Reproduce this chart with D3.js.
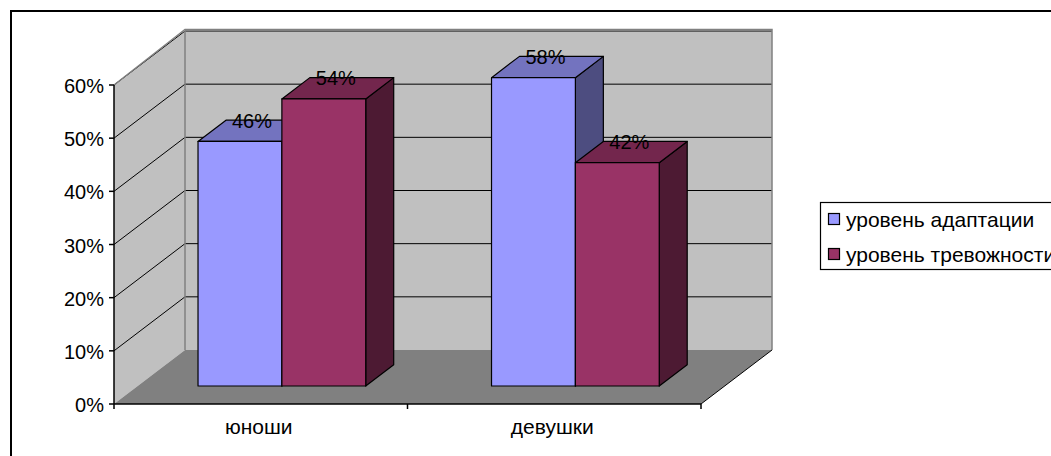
<!DOCTYPE html>
<html>
<head>
<meta charset="utf-8">
<script src="https://cdn.jsdelivr.net/npm/d3@7"></script>
<style>
  html, body { margin: 0; padding: 0; background: #fff; }
  svg { display: block; font-family: "Liberation Sans", Arial, sans-serif; }
</style>
</head>
<body>
<svg id="chart" width="1051" height="456"></svg>
<script>
// Data
const categories = ["юноши", "девушки"];
const seriesNames = ["уровень адаптации", "уровень тревожности"];
const adaptation = [0.46, 0.58];
const anxiety = [0.54, 0.42];
const yTicks = [0, 0.1, 0.2, 0.3, 0.4, 0.5, 0.6];
const yTickLabels = ["0%", "10%", "20%", "30%", "40%", "50%", "60%"];
const valueLabels = [["46%", "54%"], ["58%", "42%"]];

const seriesValues = [adaptation, anxiety];
const frontColors = ["#9999FF", "#993366"];
const topColors = ["#7373BF", "#73264D"];
const sideColors = ["#4D4D80", "#4D1A33"];

const svg = d3.select("#chart");

// Oblique 3D projection: depth z in [0,1] shifts a point right and up
const DX = 71, DY = -54;
const x0 = 114, x1 = 701;
const y = d3.scaleLinear().domain([0, 0.6]).range([404, 85]);
const xCat = d3.scaleBand().domain(categories).range([x0, x1]).padding(0);
const xSer = d3.scaleBand().domain(seriesNames).range([0, xCat.bandwidth()])
  .paddingInner(0).paddingOuter(0.75).align(0.48);
const barZ0 = 0.333, barZ1 = 0.727;

const P = (x, v, z) => [x + z * DX, y(v) + z * DY];
const poly = pts => pts.map(p => p.join(",")).join(" ");

// Outer frame
svg.append("rect").attr("x", 11).attr("y", 11).attr("width", 1200).attr("height", 600)
  .attr("fill", "#fff").attr("stroke", "#000").attr("stroke-width", 2);

// Walls and floor
const vMax = 0.6;
svg.append("polygon")
  .attr("points", poly([P(x0, 0, 1), P(x1, 0, 1), P(x1, vMax, 1), P(x0, vMax, 1)]))
  .attr("fill", "#C0C0C0");
svg.append("polygon")
  .attr("points", poly([P(x0, 0, 0), P(x0, vMax, 0), P(x0, vMax, 1), P(x0, 0, 1)]))
  .attr("fill", "#C0C0C0");
svg.append("polygon")
  .attr("points", poly([P(x0, 0, 0), P(x1, 0, 0), P(x1, 0, 1), P(x0, 0, 1)]))
  .attr("fill", "#808080");

// Gridlines across side and back walls
svg.append("g").selectAll("polyline")
  .data(yTicks.filter(t => t > 0))
  .join("polyline")
  .attr("points", t => poly([P(x0, t, 0), P(x0, t, 1), P(x1, t, 1)]))
  .attr("fill", "none").attr("stroke", "#000").attr("stroke-width", 1);

// Wall edges
svg.append("polyline")
  .attr("points", poly([P(x0, vMax, 0), [P(x0, vMax, 1)[0], P(x0, vMax, 1)[1] - 1.5],
                        [P(x1, vMax, 1)[0], P(x1, vMax, 1)[1] - 1.5], P(x1, 0, 1)]))
  .attr("fill", "none").attr("stroke", "#808080").attr("stroke-width", 1.5);
svg.append("line")
  .attr("x1", P(x0, vMax, 1)[0]).attr("y1", P(x0, vMax, 1)[1])
  .attr("x2", P(x0, 0, 1)[0]).attr("y2", P(x0, 0, 1)[1])
  .attr("stroke", "#808080").attr("stroke-width", 1.5);
svg.append("line")
  .attr("x1", P(x1, 0, 0)[0]).attr("y1", P(x1, 0, 0)[1])
  .attr("x2", P(x1, 0, 1)[0]).attr("y2", P(x1, 0, 1)[1])
  .attr("stroke", "#000").attr("stroke-width", 1);

// Value axis
const yAxis = svg.append("g");
yAxis.append("line").attr("x1", x0).attr("x2", x0).attr("y1", y(0)).attr("y2", y(vMax))
  .attr("stroke", "#000").attr("stroke-width", 1.5);
const yt = yAxis.selectAll("g.tick").data(yTicks).join("g").attr("class", "tick");
yt.append("line").attr("x1", x0 - 5).attr("x2", x0).attr("y1", d => y(d)).attr("y2", d => y(d))
  .attr("stroke", "#000").attr("stroke-width", 1.5);
yt.append("text").attr("x", x0 - 10).attr("y", d => y(d) + 8)
  .attr("text-anchor", "end").attr("font-size", 20).attr("fill", "#000")
  .text((d, i) => yTickLabels[i]);

// Category axis
const xAxis = svg.append("g");
xAxis.append("line").attr("x1", x0).attr("x2", x1).attr("y1", y(0)).attr("y2", y(0))
  .attr("stroke", "#000").attr("stroke-width", 1.5);
const bounds = [x0].concat(categories.map(c => xCat(c) + xCat.bandwidth()));
xAxis.selectAll("line.tk").data(bounds).join("line").attr("class", "tk")
  .attr("x1", d => d).attr("x2", d => d).attr("y1", y(0)).attr("y2", y(0) + 5)
  .attr("stroke", "#000").attr("stroke-width", 1.5);
xAxis.selectAll("text").data(categories).join("text")
  .attr("x", c => xCat(c) + xCat.bandwidth() / 2 - 2).attr("y", 434)
  .attr("text-anchor", "middle").attr("font-size", 21).attr("fill", "#000")
  .text(c => c);

// Bars, drawn left to right so nearer faces overlap correctly
const bars = [];
categories.forEach((c, ci) => {
  seriesNames.forEach((s, si) => {
    bars.push({ ci, si, v: seriesValues[si][ci], xl: xCat(c) + xSer(s), xr: xCat(c) + xSer(s) + xSer.bandwidth() });
  });
});
const gBars = svg.append("g");
bars.forEach(b => {
  const g = gBars.append("g");
  const fBL = P(b.xl, 0, barZ0), fBR = P(b.xr, 0, barZ0);
  const fTL = P(b.xl, b.v, barZ0), fTR = P(b.xr, b.v, barZ0);
  const bTL = P(b.xl, b.v, barZ1), bTR = P(b.xr, b.v, barZ1);
  const bBR = P(b.xr, 0, barZ1);
  g.append("polygon").attr("points", poly([fBR, fTR, bTR, bBR]))
    .attr("fill", sideColors[b.si]).attr("stroke", "#000").attr("stroke-width", 1.2).attr("stroke-linejoin", "round");
  g.append("polygon").attr("points", poly([fTL, fTR, bTR, bTL]))
    .attr("fill", topColors[b.si]).attr("stroke", "#000").attr("stroke-width", 1.2).attr("stroke-linejoin", "round");
  g.append("polygon").attr("points", poly([fBL, fBR, fTR, fTL]))
    .attr("fill", frontColors[b.si]).attr("stroke", "#000").attr("stroke-width", 1.2).attr("stroke-linejoin", "round");
});

// Value labels on bar tops
svg.append("g").selectAll("text").data(bars).join("text")
  .attr("x", b => (b.xl + b.xr) / 2 + (barZ0 + barZ1) / 2 * DX - 2)
  .attr("y", b => y(b.v) + (barZ0 + barZ1) / 2 * DY - 3)
  .attr("text-anchor", "middle").attr("font-size", 20).attr("fill", "#000")
  .text(b => valueLabels[b.ci][b.si]);

// Legend
const lg = svg.append("g");
lg.append("rect").attr("x", 820.5).attr("y", 202.5).attr("width", 300).attr("height", 67)
  .attr("fill", "#fff").attr("stroke", "#000").attr("stroke-width", 1.2);
const li = lg.selectAll("g.item").data(seriesNames).join("g").attr("class", "item")
  .attr("transform", (d, i) => `translate(0, ${i * 35})`);
li.append("rect").attr("x", 828.5).attr("y", 213.5).attr("width", 11).attr("height", 11)
  .attr("fill", (d, i) => frontColors[i]).attr("stroke", "#000").attr("stroke-width", 1.2);
li.append("text").attr("x", 846).attr("y", 227).attr("font-size", 21).attr("fill", "#000")
  .text(d => d);
</script>
</body>
</html>
